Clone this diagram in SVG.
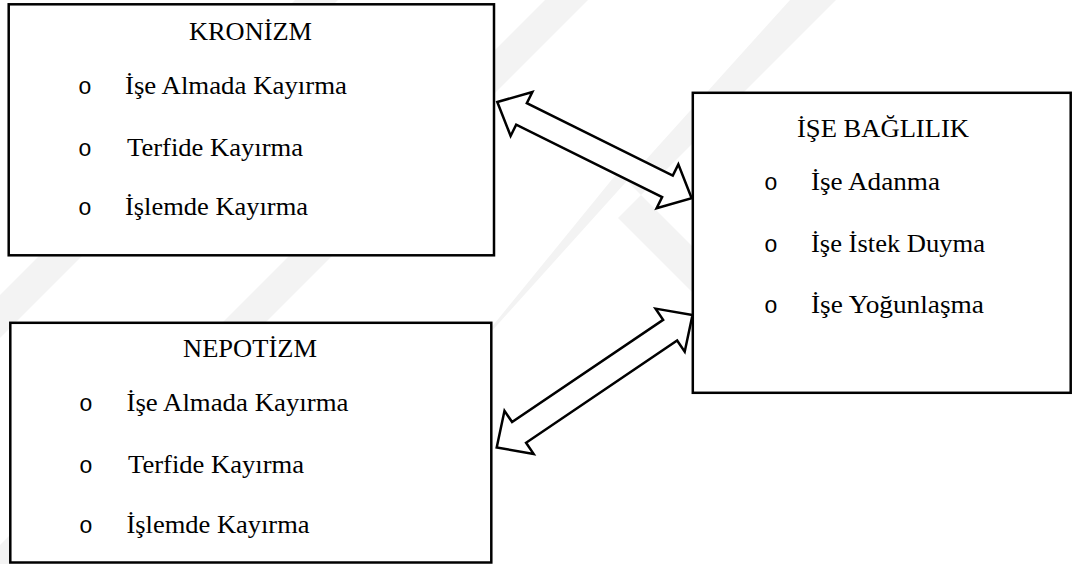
<svg xmlns="http://www.w3.org/2000/svg" width="1078" height="564" viewBox="0 0 1078 564">
  <style>
    .box { fill: #ffffff; stroke: #000000; stroke-width: 2.5; }
    .arrow { fill: #ffffff; stroke: #000000; stroke-width: 2.5; stroke-linejoin: miter; }
    .t { font-family: "Liberation Serif", "Times New Roman", serif; font-size: 25.5px; fill: #000000; }
    .b { font-family: "Liberation Mono", "Courier New", monospace; font-size: 23px; fill: #000000; text-anchor: middle; }
    .wm { fill: #f3f3f3; }
  </style>
  <rect x="0" y="0" width="1078" height="564" fill="#ffffff"/>
  <g id="watermark">
    <polygon class="wm" points="0,295 295,0 338,0 0,338"/>
    <polygon class="wm" points="0,545 545,0 588,0 24,564 0,564"/>
    <polygon class="wm" points="370,466 790,0 836,0 618,218 790,390 836,390 618,172 416,420"/>
  </g>
  <g id="connectors">
    <polygon class="arrow" transform="translate(497.3,102) rotate(26.35)" points="0,0 27,-24.5 27,-12 189.9,-12 189.9,-24.5 216.9,0 189.9,24.5 189.9,12 27,12 27,24.5"/>
    <polygon class="arrow" transform="translate(496.7,447.5) rotate(-34.08)" points="0,0 27,-26 27,-12.5 209.4,-12.5 209.4,-26 236.4,0 209.4,26 209.4,12.5 27,12.5 27,26"/>
  </g>
  <g id="kronizm">
    <rect class="box" x="8.7" y="4.3" width="485.3" height="251"/>
    <text class="t" x="250.5" y="40" text-anchor="middle" textLength="123" lengthAdjust="spacingAndGlyphs">KRONİZM</text>
    <text class="b" x="85" y="94">o</text>
    <text class="t" x="125" y="94" textLength="222" lengthAdjust="spacingAndGlyphs">İşe Almada Kayırma</text>
    <text class="b" x="85" y="156">o</text>
    <text class="t" x="127" y="156" textLength="176" lengthAdjust="spacingAndGlyphs">Terfide Kayırma</text>
    <text class="b" x="85" y="215">o</text>
    <text class="t" x="125" y="215" textLength="183" lengthAdjust="spacingAndGlyphs">İşlemde Kayırma</text>
  </g>
  <g id="nepotizm">
    <rect class="box" x="10.3" y="322.8" width="481" height="239.7"/>
    <text class="t" x="250" y="357" text-anchor="middle" textLength="134" lengthAdjust="spacingAndGlyphs">NEPOTİZM</text>
    <text class="b" x="86" y="411">o</text>
    <text class="t" x="126.5" y="411" textLength="222" lengthAdjust="spacingAndGlyphs">İşe Almada Kayırma</text>
    <text class="b" x="86" y="473">o</text>
    <text class="t" x="128" y="473" textLength="176" lengthAdjust="spacingAndGlyphs">Terfide Kayırma</text>
    <text class="b" x="86" y="533">o</text>
    <text class="t" x="126.5" y="533" textLength="183" lengthAdjust="spacingAndGlyphs">İşlemde Kayırma</text>
  </g>
  <g id="ise-baglilik">
    <rect class="box" x="692.8" y="92.8" width="377.9" height="300"/>
    <text class="t" x="883" y="137" text-anchor="middle" textLength="172" lengthAdjust="spacingAndGlyphs">İŞE BAĞLILIK</text>
    <text class="b" x="771" y="190">o</text>
    <text class="t" x="811" y="190" textLength="129" lengthAdjust="spacingAndGlyphs">İşe Adanma</text>
    <text class="b" x="771" y="252">o</text>
    <text class="t" x="811" y="252" textLength="174" lengthAdjust="spacingAndGlyphs">İşe İstek Duyma</text>
    <text class="b" x="771" y="313">o</text>
    <text class="t" x="811" y="313" textLength="173" lengthAdjust="spacingAndGlyphs">İşe Yoğunlaşma</text>
  </g>
</svg>
